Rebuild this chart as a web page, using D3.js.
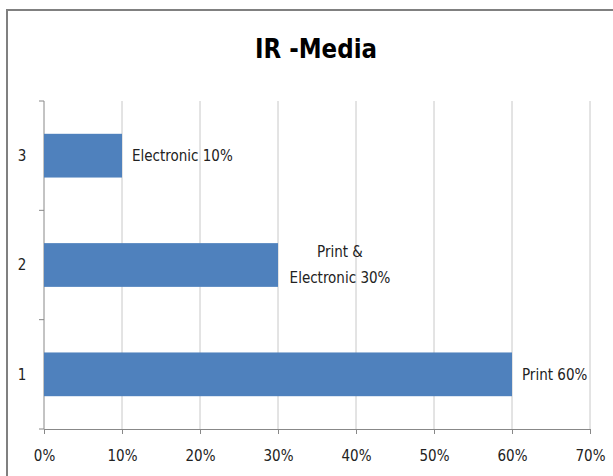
<!DOCTYPE html>
<html><head><meta charset="utf-8">
<script src="https://cdn.jsdelivr.net/npm/d3@7"></script>
<style>body{margin:0;background:#fff}</style>
</head><body>
<svg id="c" width="613" height="476"></svg>
<script>
const categories = ["1", "2", "3"];
const values = [0.60, 0.30, 0.10];
const labels = [["Print 60%"], ["Print &", "Electronic 30%"], ["Electronic 10%"]];
const xTicks = [0, 0.1, 0.2, 0.3, 0.4, 0.5, 0.6, 0.7];
const title = "IR -Media";

const font = "'DejaVu Sans Condensed','DejaVu Sans',sans-serif";
const svg = d3.select("#c");
svg.append("rect").attr("x", 7).attr("y", 10).attr("width", 620).attr("height", 480)
  .attr("fill", "#fff").attr("stroke", "#808080").attr("stroke-width", 2);

const L = 44, R = 590, T = 101, B = 429;
const x = d3.scaleLinear().domain([0, 0.7]).range([L, R]);
const y = d3.scaleBand().domain(["3", "2", "1"]).range([T, B]).paddingInner(0.6).paddingOuter(0.3);
const yEdge = d3.scaleLinear().domain([0, 3]).range([B, T]);

// gridlines
svg.append("g").selectAll("line").data(xTicks.slice(1)).join("line")
  .attr("x1", d => x(d)).attr("x2", d => x(d)).attr("y1", T).attr("y2", B)
  .attr("stroke", "#c8c8c8").attr("stroke-width", 1);

// x axis
const xa = svg.append("g").attr("transform", `translate(0,${B})`)
  .call(d3.axisBottom(x).tickValues(xTicks).tickFormat(d3.format(".0%")).tickSize(5).tickPadding(16));
xa.select(".domain").attr("stroke", "#888");
xa.selectAll(".tick line").attr("stroke", "#888");
xa.selectAll("text").attr("font-family", font).attr("font-size", 15).attr("fill", "#222");

// y axis
const ya = svg.append("g").attr("transform", `translate(${L},0)`);
ya.append("line").attr("x1", 0).attr("x2", 0).attr("y1", T).attr("y2", B).attr("stroke", "#888");
ya.selectAll("line.t").data(d3.range(4)).join("line").attr("class", "t")
  .attr("x1", -5).attr("x2", 0).attr("y1", d => yEdge(d)).attr("y2", d => yEdge(d)).attr("stroke", "#888");
ya.selectAll("text").data(categories).join("text")
  .attr("x", -22).attr("y", d => y(d) + y.bandwidth() / 2).attr("dy", "0.35em")
  .attr("text-anchor", "middle").attr("font-family", font).attr("font-size", 15).attr("fill", "#222")
  .text(d => d);

// bars
svg.append("g").selectAll("rect").data(categories).join("rect")
  .attr("x", x(0)).attr("y", d => y(d)).attr("height", y.bandwidth())
  .attr("width", (d, i) => x(values[i]) - x(0)).attr("fill", "#4f81bd");

// data labels
categories.forEach((c, i) => {
  const lines = labels[i];
  const multi = lines.length > 1;
  const t = svg.append("text").attr("font-family", font).attr("font-size", 15).attr("fill", "#222")
    .attr("text-anchor", multi ? "middle" : "start");
  const cx = multi ? x(values[i]) + 62 : x(values[i]) + 10;
  const cy = y(c) + y.bandwidth() / 2;
  lines.forEach((ln, j) => {
    t.append("tspan").attr("x", cx)
      .attr("y", cy + (j - (lines.length - 1) / 2) * 26).attr("dy", "0.35em").text(ln);
  });
});

// title
svg.append("text").attr("x", 316).attr("y", 49).attr("dy", "0.35em").attr("text-anchor", "middle")
  .attr("font-family", font).attr("font-weight", "bold").attr("font-size", 27).attr("fill", "#000")
  .attr("textLength", 122).attr("lengthAdjust", "spacingAndGlyphs")
  .text(title);
</script>
</body></html>
